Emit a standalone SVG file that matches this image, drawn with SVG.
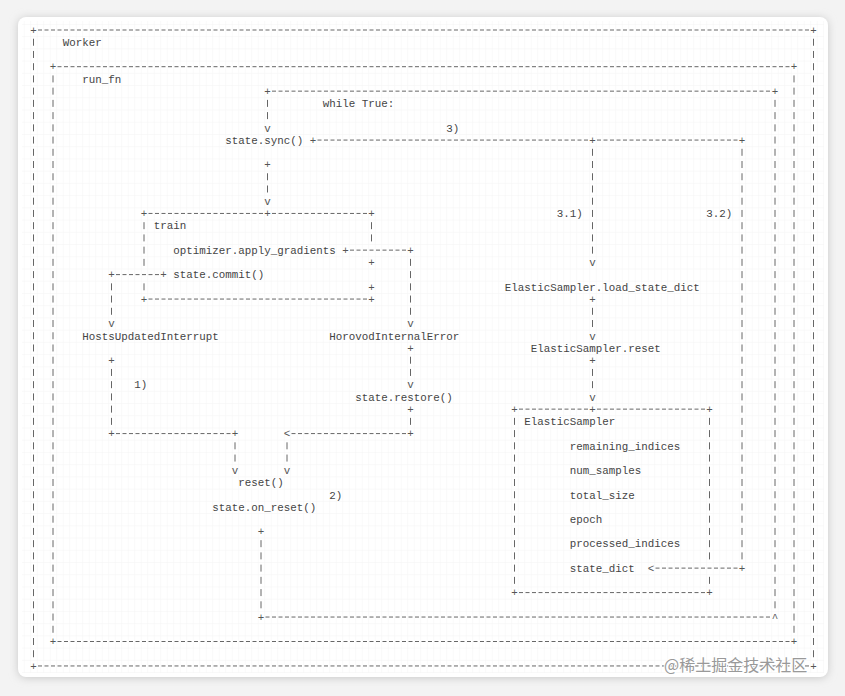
<svg xmlns="http://www.w3.org/2000/svg" width="845" height="696" viewBox="0 0 845 696">
<defs>
<style>
.t{font-family:"Liberation Mono","DejaVu Sans Mono",monospace;font-size:10.83px;fill:#444}
.g{font-family:"Liberation Mono","DejaVu Sans Mono",monospace;font-size:10.83px;fill:#555;text-anchor:middle}
.h{stroke:#666;stroke-width:1;stroke-dasharray:4 2.5;fill:none}
.v{stroke:#666;stroke-width:1;stroke-dasharray:7 5.23;fill:none}
.wm{font-family:"Noto Sans CJK SC","Noto Sans",sans-serif;font-size:16px;fill:#999;stroke:#fff;stroke-width:2;paint-order:stroke}
</style>
<pattern id="grid" x="30.25" y="23.9" width="6.5" height="12.23" patternUnits="userSpaceOnUse">
<path d="M0 0H6.5M0 0V12.23" stroke="#f0f0f0" stroke-width="0.8" fill="none"/>
</pattern>
<filter id="sh" x="-5%" y="-5%" width="110%" height="110%">
<feGaussianBlur stdDeviation="4"/>
</filter>
</defs>
<rect width="845" height="696" fill="#f3f3f3"/>
<rect x="18" y="18" width="810" height="660" rx="8" fill="#c8c8c8" filter="url(#sh)"/>
<rect x="18" y="17" width="810" height="660" rx="8" fill="#fff"/>
<rect x="22" y="21" width="802" height="652" fill="url(#grid)"/>

<g id="worker">
<path class="h" d="M38 30H809M38 665.96H809"/>
<path class="v" d="M33.5 38.73V657.23M813.5 38.73V657.23"/>
<text class="g" x="33.5" y="33.8">+</text><text class="g" x="813.5" y="33.8">+</text>
<text class="g" x="33.5" y="669.76">+</text><text class="g" x="813.5" y="669.76">+</text>
<text class="t" x="62.75" y="46.03">Worker</text>
</g>

<g id="run_fn">
<path class="h" d="M57.5 66.69H789.5M57.5 641.5H789.5"/>
<path class="v" d="M53 75.42V632.77M794 75.42V632.77"/>
<text class="g" x="53" y="70.49">+</text><text class="g" x="794" y="70.49">+</text>
<text class="g" x="53" y="645.3">+</text><text class="g" x="794" y="645.3">+</text>
<text class="t" x="82.25" y="82.72">run_fn</text>
</g>

<g id="train">
<path class="h" d="M148.5 213.45H263M272 213.45H367M148.5 299.06H367"/>
<path class="v" d="M144 222.18V265.87M144 283.33V290.33M371.5 222.18V241.41"/>
<text class="g" x="144" y="217.25">+</text><text class="g" x="371.5" y="217.25">+</text>
<text class="g" x="144" y="302.86">+</text><text class="g" x="371.5" y="302.86">+</text>
<text class="g" x="371.5" y="266.17">+</text><text class="g" x="371.5" y="290.63">+</text>
<text class="t" x="153.75" y="229.48">train</text>
<text class="t" x="173.25" y="253.94">optimizer.apply_gradients</text>
<text class="t" x="173.25" y="278.4">state.commit()</text>
</g>

<g id="elastic_sampler">
<path class="h" d="M519 409.13H588M597 409.13H705M519 592.58H705"/>
<path class="v" d="M514.5 417.86V583.85M709.5 417.86V559.39M709.5 576.85V583.85"/>
<text class="g" x="514.5" y="412.93">+</text><text class="g" x="709.5" y="412.93">+</text>
<text class="g" x="514.5" y="596.38">+</text><text class="g" x="709.5" y="596.38">+</text>
<text class="t" x="524.25" y="425.16">ElasticSampler</text>
<text class="t" x="569.75" y="449.62">remaining_indices</text>
<text class="t" x="569.75" y="474.08">num_samples</text>
<text class="t" x="569.75" y="498.54">total_size</text>
<text class="t" x="569.75" y="523">epoch</text>
<text class="t" x="569.75" y="547.46">processed_indices</text>
<text class="t" x="569.75" y="571.92">state_dict</text>
</g>

<g id="state_sync"><text class="t" x="225.25" y="143.87">state.sync()</text></g>
<g id="hosts_updated_interrupt"><text class="t" x="82.25" y="339.55">HostsUpdatedInterrupt</text></g>
<g id="horovod_internal_error"><text class="t" x="329.25" y="339.55">HorovodInternalError</text></g>
<g id="state_restore"><text class="t" x="355.25" y="400.7">state.restore()</text></g>
<g id="reset"><text class="t" x="238.25" y="486.31">reset()</text></g>
<g id="state_on_reset"><text class="t" x="212.25" y="510.77">state.on_reset()</text></g>
<g id="load_state_dict"><text class="t" x="504.75" y="290.63">ElasticSampler.load_state_dict</text></g>
<g id="sampler_reset"><text class="t" x="530.75" y="351.78">ElasticSampler.reset</text></g>

<g id="connectors">
<!-- while loop -->
<path class="v" d="M261 540.16V608.31M775 99.88V608.31M267.5 99.88V119.11"/>
<path class="h" d="M265.5 617.04H770.5M272 91.15H770.5"/>
<text class="g" x="261" y="535.23">+</text><text class="g" x="261" y="620.84">+</text>
<text class="g" x="775" y="620.84">^</text><text class="g" x="775" y="94.95">+</text>
<text class="g" x="267.5" y="94.95">+</text><text class="g" x="267.5" y="131.64">v</text>
<text class="t" x="322.75" y="107.18">while True:</text>
<!-- sync to train -->
<path class="v" d="M267.5 173.26V192.49"/>
<text class="g" x="267.5" y="168.33">+</text><text class="g" x="267.5" y="205.02">v</text>
<text class="g" x="267.5" y="217.25">+</text>
<!-- sync to sampler -->
<path class="h" d="M317.5 140.07H588M597 140.07H737.5M655.5 568.12H737.5"/>
<path class="v" d="M592.5 148.8V253.64M742 148.8V559.39"/>
<text class="g" x="313" y="143.87">+</text><text class="g" x="592.5" y="143.87">+</text>
<text class="g" x="742" y="143.87">+</text><text class="g" x="592.5" y="266.17">v</text>
<text class="g" x="742" y="571.92">+</text><text class="g" x="651" y="571.92">&lt;</text>
<text class="t" x="446.25" y="131.64">3)</text>
<text class="t" x="556.75" y="217.25">3.1)</text>
<text class="t" x="706.25" y="217.25">3.2)</text>
<!-- load_state_dict to reset to sampler -->
<path class="v" d="M592.5 307.79V327.02M592.5 368.94V388.17"/>
<text class="g" x="592.5" y="302.86">+</text><text class="g" x="592.5" y="339.55">v</text>
<text class="g" x="592.5" y="364.01">+</text><text class="g" x="592.5" y="400.7">v</text>
<text class="g" x="592.5" y="412.93">+</text>
<!-- apply_gradients to HorovodInternalError -->
<path class="h" d="M350 250.14H406"/>
<path class="v" d="M410.5 258.87V314.79"/>
<text class="g" x="345.5" y="253.94">+</text><text class="g" x="410.5" y="253.94">+</text>
<text class="g" x="410.5" y="327.32">v</text>
<!-- commit to HostsUpdatedInterrupt -->
<path class="h" d="M116 274.6H159"/>
<path class="v" d="M111.5 283.33V314.79"/>
<text class="g" x="163.5" y="278.4">+</text><text class="g" x="111.5" y="278.4">+</text>
<text class="g" x="111.5" y="327.32">v</text>
<!-- HostsUpdatedInterrupt to reset -->
<path class="v" d="M111.5 368.94V424.86M235 442.32V461.55"/>
<path class="h" d="M116 433.59H230.5"/>
<text class="g" x="111.5" y="364.01">+</text><text class="g" x="111.5" y="437.39">+</text>
<text class="g" x="235" y="437.39">+</text><text class="g" x="235" y="474.08">v</text>
<text class="t" x="134.25" y="388.47">1)</text>
<!-- HorovodInternalError to restore to reset -->
<path class="v" d="M410.5 356.71V375.94M410.5 417.86V424.86M287 442.32V461.55"/>
<path class="h" d="M291.5 433.59H406"/>
<text class="g" x="410.5" y="351.78">+</text><text class="g" x="410.5" y="388.47">v</text>
<text class="g" x="410.5" y="412.93">+</text><text class="g" x="410.5" y="437.39">+</text>
<text class="g" x="287" y="437.39">&lt;</text><text class="g" x="287" y="474.08">v</text>
<text class="t" x="329.25" y="498.54">2)</text>
</g>

<text class="wm" x="664" y="671">@稀土掘金技术社区</text>
</svg>
